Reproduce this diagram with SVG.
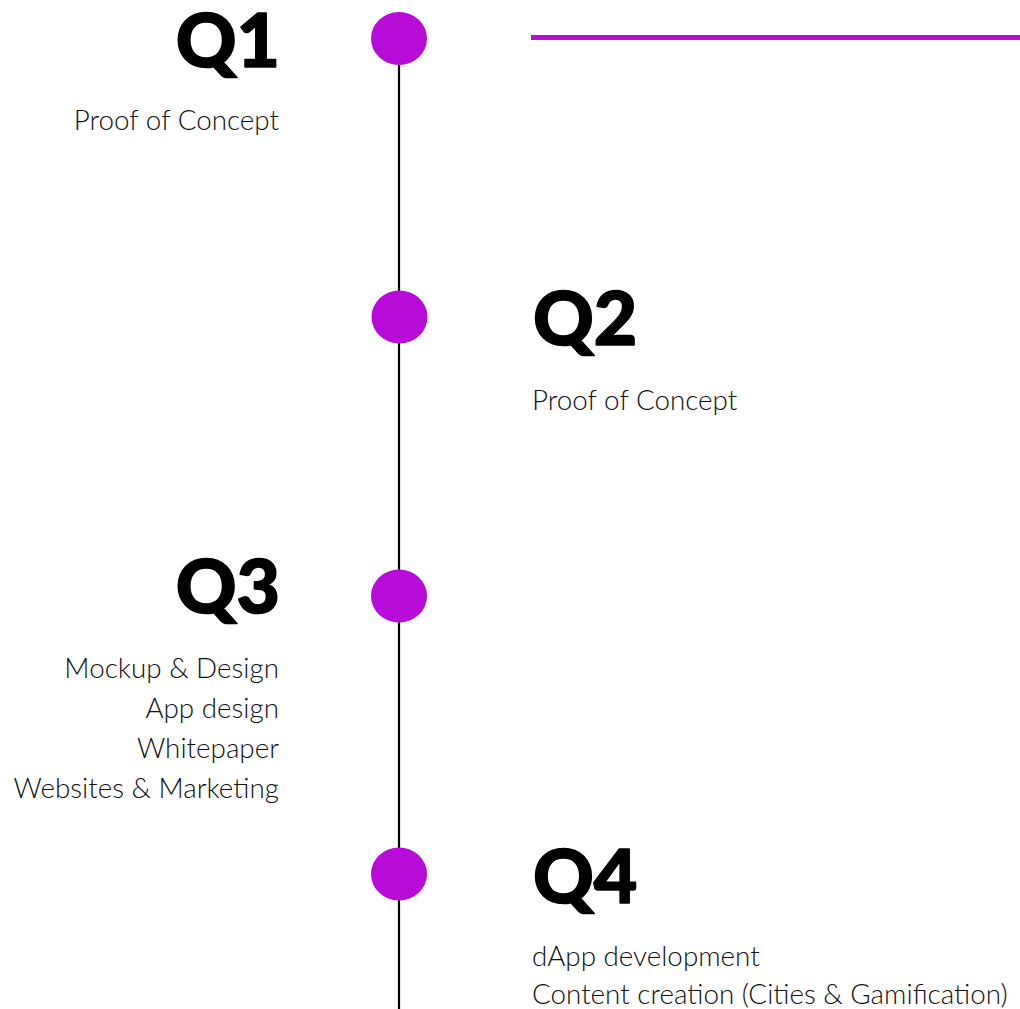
<svg xmlns="http://www.w3.org/2000/svg" width="1020" height="1009" viewBox="0 0 1020 1009">
<style>
.q{font-family:Lato,"Liberation Sans",sans-serif;font-weight:900;font-size:75px;fill:#000;stroke:#000;stroke-width:1.6;stroke-linejoin:round}
.t{font-family:Lato,"Open Sans","Liberation Sans",sans-serif;font-weight:300;font-size:27.8px;fill:#111}
.r{text-anchor:end}
.dot{fill:#B70BD8}
</style>
<rect width="1020" height="1009" fill="#fff"/>
<g id="connectors">
<line x1="399" y1="38" x2="399" y2="1009" stroke="#000" stroke-width="2.2"/>
<line x1="531" y1="37.5" x2="1020" y2="37.5" stroke="#B70BD8" stroke-width="5"/>
</g>
<g id="q1">
<ellipse class="dot" cx="399" cy="38.5" rx="28" ry="26.5"/>
<text class="q r" x="280" y="67">Q1</text>
<text class="t r" x="279" y="130">Proof of Concept</text>
</g>
<g id="q2">
<ellipse class="dot" cx="399.5" cy="317" rx="28" ry="26.5"/>
<text class="q" x="533" y="345">Q2</text>
<text class="t" x="532" y="410">Proof of Concept</text>
</g>
<g id="q3">
<ellipse class="dot" cx="399" cy="596" rx="28" ry="26.5"/>
<text class="q r" x="280" y="613">Q3</text>
<text class="t r" x="279" y="678">Mockup &amp; Design</text>
<text class="t r" x="279" y="718">App design</text>
<text class="t r" x="279" y="758">Whitepaper</text>
<text class="t r" x="279" y="798">Websites &amp; Marketing</text>
</g>
<g id="q4">
<ellipse class="dot" cx="399" cy="874" rx="28" ry="26.5"/>
<text class="q" x="533" y="903">Q4</text>
<text class="t" x="532" y="966">dApp development</text>
<text class="t" x="532" y="1004">Content creation (Cities &amp; Gamification)</text>
</g>
</svg>
